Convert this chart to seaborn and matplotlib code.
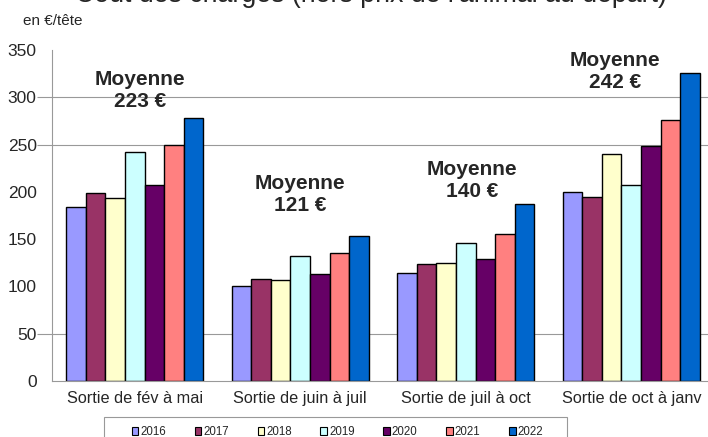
import numpy as np
import pandas as pd
import matplotlib
matplotlib.use("Agg")
import matplotlib.pyplot as plt
import seaborn as sns

# données (en €/tête)
categories = ["Sortie de fév à mai", "Sortie de juin à juil", "Sortie de juil à oct", "Sortie de oct à janv"]
years = ["2016", "2017", "2018", "2019", "2020", "2021", "2022"]
v2016 = [184, 100, 114, 200]
v2017 = [199, 108, 124, 195]
v2018 = [194, 107, 125, 240]
v2019 = [242, 132, 146, 207]
v2020 = [207, 113, 129, 249]
v2021 = [250, 135, 155, 276]
v2022 = [278, 153, 187, 326]
moyennes = ["223 €", "121 €", "140 €", "242 €"]
colors = ["#9999FF", "#993366", "#FFFFCC", "#CCFFFF", "#660066", "#FF8080", "#0066CC"]

series = [v2016, v2017, v2018, v2019, v2020, v2021, v2022]
df = pd.DataFrame({
    "cat": np.tile(categories, len(years)),
    "year": np.repeat(years, len(categories)),
    "val": np.concatenate(series),
})

sns.set_style("white")
plt.rcParams["font.family"] = ["Liberation Sans", "DejaVu Sans"]

fig = plt.figure(figsize=(7.08, 4.37), dpi=100)
ax = fig.add_axes([52 / 708, 1 - 381 / 437, 662 / 708, 331 / 437])

sns.barplot(data=df, x="cat", y="val", hue="year", order=categories, hue_order=years,
            palette=colors, width=0.83, edgecolor="black", linewidth=1.0,
            saturation=1, legend=False, ax=ax)

ax.grid(False)
ax.set_ylim(0, 350)
ax.set_xlim(-0.5, 3.5)
ax.set_xlabel("")
ax.set_ylabel("")
ax.set_yticks(range(0, 351, 50))
ax.tick_params(axis="y", length=0, pad=11, labelsize=12.5)
ax.tick_params(axis="x", which="major", length=0, pad=7, labelsize=11.7)
ax.set_xticks([-0.5, 0.5, 1.5, 2.5, 3.5], minor=True)
ax.tick_params(axis="x", which="minor", length=4, color="#999999", width=0.8)

# quadrillage seulement à 50, 250 et 300 comme sur l'original
for g in [50, 250, 300]:
    ax.hlines(g, -0.023, 1, transform=ax.get_yaxis_transform(), color="#999999",
              linewidth=0.8, clip_on=False, zorder=0)

for s in ["top", "right"]:
    ax.spines[s].set_visible(False)
for s in ["left", "bottom"]:
    ax.spines[s].set_color("#999999")
    ax.spines[s].set_linewidth(0.8)

# étiquettes "Moyenne"
lab_x = [0.03, 1.0, 2.04, 2.9]
lab_y = [307, 197, 212, 327]
for x, y, m in zip(lab_x, lab_y, moyennes):
    ax.text(x, y, "Moyenne\n" + m, ha="center", va="center", fontsize=15,
            fontweight="bold", linespacing=1.2)

# titre coupé en haut et unité
fig.text(371 / 708, 1 - 1.5 / 437, "Coût des charges (hors prix de l'animal au départ)",
         ha="center", va="baseline", fontsize=19.3)
fig.text(23 / 708, 1 - 21 / 437, "en €/tête", ha="left", va="center", fontsize=11,
         family=["Liberation Sans Narrow", "Liberation Sans", "DejaVu Sans"])

# légende : cadre gris dessiné à part, coupé en bas
fig.patches.append(plt.Rectangle((104 / 708, 1 - 447 / 437), 463 / 708, 30 / 437,
                                 transform=fig.transFigure, facecolor="none",
                                 edgecolor="#999999", linewidth=0.8))
handles = [plt.Rectangle((0, 0), 1, 1, facecolor=c, edgecolor="black", linewidth=0.8) for c in colors]
leg = fig.legend(handles, years, loc="center", bbox_to_anchor=(337.5 / 708, 1 - 432 / 437),
                 ncol=7, fontsize=8.3, handlelength=0.58, handleheight=0.58,
                 handletextpad=0.17, columnspacing=2.48, frameon=False, borderpad=0)

fig.savefig("out.png", dpi=100)
